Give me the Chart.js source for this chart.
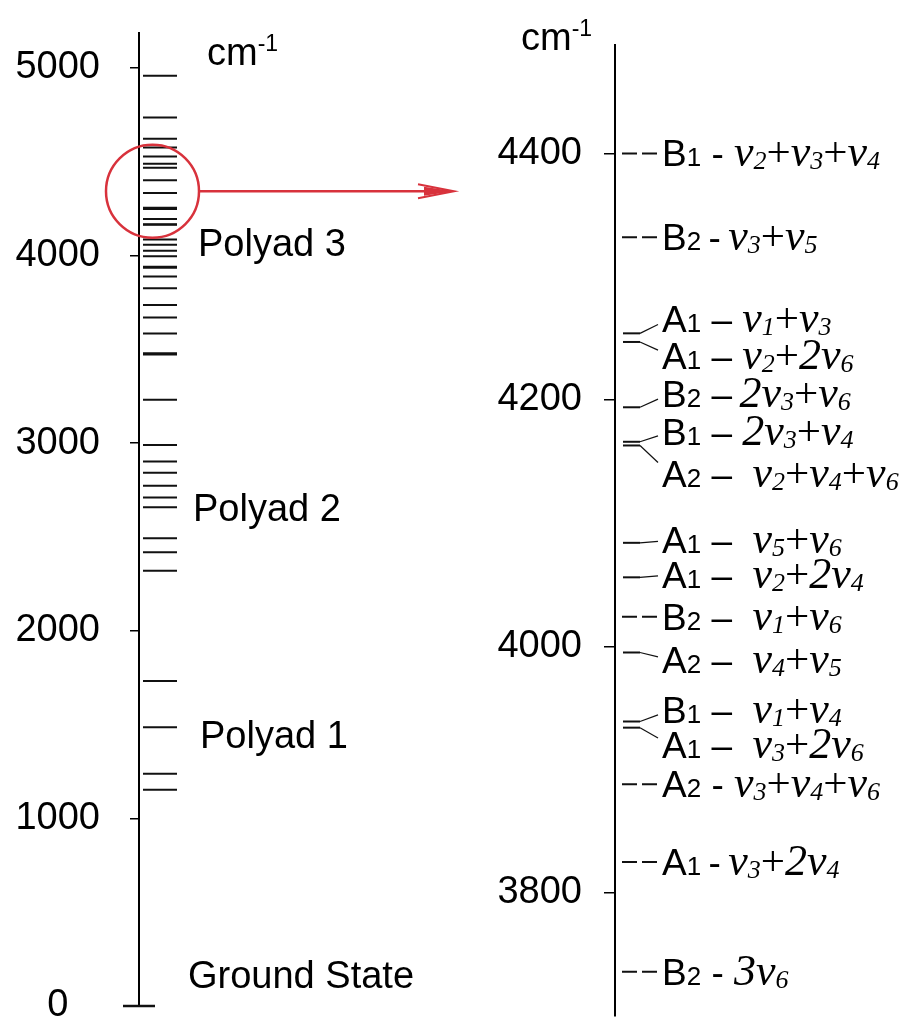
<!DOCTYPE html>
<html>
<head>
<meta charset="utf-8">
<script src="https://cdn.jsdelivr.net/npm/chart.js@4.4.0/dist/chart.umd.min.js"></script>
<style>
  html, body { margin: 0; padding: 0; background: #fff; overflow: hidden; }
  #wrap  { position: relative; width: 901px; height: 1017px; overflow: hidden; }
  #left  { position: absolute; left: 0;     top: 0; width: 460px; height: 1060px; }
  #right { position: absolute; left: 460px; top: 0; width: 441px; height: 1060px; }
</style>
</head>
<body>
<div id="wrap">
  <div id="left"><canvas id="chart-overview"></canvas></div>
  <div id="right"><canvas id="chart-detail"></canvas></div>
</div>
<script>
/* Vibrational energy levels: full ladder (left) and zoom on polyad 3 (right) */

const leftTicks  = [0, 1000, 2000, 3000, 4000, 5000];
const rightTicks = [3800, 4000, 4200, 4400];

// levels (cm-1)
const groundLevel       = [0];
const polyad1Levels     = [1153, 1238, 1486, 1732];
const polyad2Levels     = [2319, 2418, 2493, 2658, 2710, 2773, 2841, 2902, 2990];
const polyad3LowLevels  = [3230, 3472, 3478, 3584, 3669];
const polyad3HighLevels = [4467, 4488, 4527, 4575, 4622, 4735, 4957];

// zoomed window, right ladder
const detailLevels = [4400, 4332, 4254, 4247, 4194, 4166, 4163, 4084, 4056, 4024, 3995, 3939, 3934, 3888, 3825, 3736];
const detailSym    = ['B1', 'B2', 'A1', 'A1', 'B2', 'B1', 'A2', 'A1', 'A1', 'B2', 'A2', 'B1', 'A1', 'A2', 'A1', 'B2'];
const detailModes  = ['ν_2+ν_3+ν_4', 'ν_3+ν_5', 'ν_1+ν_3', 'ν_2+2ν_6', '2ν_3+ν_6', '2ν_3+ν_4', 'ν_2+ν_4+ν_6',
                      'ν_5+ν_6', 'ν_2+2ν_4', 'ν_1+ν_6', 'ν_4+ν_5', 'ν_1+ν_4', 'ν_3+2ν_6', 'ν_3+ν_4+ν_6', 'ν_3+2ν_4', '3ν_6'];

const groupLabels = ['Polyad 3', 'Polyad 2', 'Polyad 1', 'Ground State'];
const groupAt     = [4066, 2654, 1444, 165];
const zoomCentre  = 4342;

// ---- layout / style ----
const SANS  = '"Liberation Sans", Arial, sans-serif';
const SERIF = '"Liberation Serif", "Times New Roman", serif';
const INK   = '#111';
const RED   = '#d8323c';
const THIN  = '\u2009';

const SEP = [' - ', THIN + '-' + THIN, ' – ', ' – ', ' –' + THIN, ' – ', ' –  ', ' –  ', ' –  ', ' –  ',
             ' –  ', ' –  ', ' –  ', ' - ', THIN + '-' + THIN, ' - '];
const LABEL_SHIFT = [0, 0, 12, -11, 11, 8, -23, 2, 2, 0, -6, 9, -14, 0, 0, 0];   // cm-1, pulls crowded labels apart
const GROUP_X     = [59, 54, 61, 49];

function seg(x0, x1, y0, y1, extra) {
  return Object.assign({
    data: [{ x: x0, y: y0 }, { x: x1, y: y1 }],
    borderColor: INK, borderWidth: 2, pointRadius: 0, clip: false, tension: 0
  }, extra || {});
}

// tiny lineHeight: chart.js adds label height + padding to the top inset of a vertical axis
function yAxis(min, max, ticks, width, tickLen, pad, align, lh) {
  return {
    type: 'linear', position: 'left', min, max,
    afterBuildTicks: s => { s.ticks = ticks.map(v => ({ value: v })); },
    afterFit: s => { s.width = width; },
    border: { display: true, color: '#000', width: 2 },
    grid:   { display: true, drawOnChartArea: false, drawTicks: true, tickLength: tickLen, color: '#000', lineWidth: 1.5 },
    ticks:  {
      color: '#000', font: { family: SANS, size: 38, lineHeight: lh }, padding: pad, crossAlign: align,
      callback: v => String(v)
    }
  };
}

function runsFor(sym, sep, modes) {
  const r = [
    { t: sym[0], f: '37px ' + SANS },
    { t: sym.slice(1), f: '26px ' + SANS },
    { t: sep, f: '37px ' + SANS }
  ];
  for (let i = 0; i < modes.length; i++) {
    const ch = modes[i];
    if (ch === '_')      r.push({ t: modes[++i], f: 'italic 26px ' + SERIF, dy: 3 });
    else if (ch === '+') r.push({ t: '+', f: '43px ' + SERIF });
    else                 r.push({ t: ch, f: 'italic 44px ' + SERIF });
  }
  return r;
}

function drawRuns(ctx, x, y, runs) {
  ctx.textAlign = 'left';
  ctx.textBaseline = 'alphabetic';
  ctx.fillStyle = '#000';
  runs.forEach(r => {
    ctx.font = r.f;
    ctx.fillText(r.t, x, y + (r.dy || 0));
    x += ctx.measureText(r.t).width;
  });
}

function drawUnit(ctx, x, y) {
  drawRuns(ctx, x, y, [{ t: 'cm', f: '38px ' + SANS }, { t: '-1', f: '23px ' + SANS, dy: -14 }]);
}

// ---- left: whole ladder ----
const ladder = [].concat(polyad1Levels, polyad2Levels, polyad3LowLevels, detailLevels, polyad3HighLevels);
const leftSets = ladder.map(v => seg(4, 38, v, v));
groundLevel.forEach(v => leftSets.push(seg(-16, 16, v, v, { borderWidth: 2.5 })));

const overviewDecor = {
  id: 'overviewDecor',
  afterDraw(chart) {
    const { ctx, scales: { x, y } } = chart;
    ctx.save();
    drawUnit(ctx, 207, 65);
    ctx.font = '38px ' + SANS;
    ctx.fillStyle = '#000';
    groupLabels.forEach((t, i) => ctx.fillText(t, x.getPixelForValue(GROUP_X[i]), y.getPixelForValue(groupAt[i]) + 13));

    // zoom marker + arrow
    const cx = x.getPixelForValue(13.5), cy = y.getPixelForValue(zoomCentre), r = 46.5;
    const tip = x.getPixelForValue(315);
    ctx.strokeStyle = RED; ctx.fillStyle = RED; ctx.lineWidth = 2.5;
    ctx.beginPath(); ctx.arc(cx, cy, r, 0, Math.PI * 2); ctx.stroke();
    ctx.beginPath(); ctx.moveTo(cx + r, cy); ctx.lineTo(tip - 6, cy); ctx.stroke();
    ctx.beginPath(); ctx.moveTo(tip, cy); ctx.lineTo(tip - 30, cy - 4.5); ctx.lineTo(tip - 30, cy + 4.5); ctx.closePath(); ctx.fill();
    ctx.lineWidth = 2;
    ctx.beginPath(); ctx.moveTo(tip - 36, cy - 7); ctx.lineTo(tip, cy); ctx.lineTo(tip - 36, cy + 7); ctx.stroke();
    ctx.restore();
  }
};

new Chart(document.getElementById('chart-overview'), {
  type: 'line',
  data: { datasets: leftSets },
  options: {
    responsive: true, maintainAspectRatio: false, animation: false, events: [],
    layout: { padding: { top: 33, bottom: 54, left: 0, right: 0 } },
    plugins: { legend: { display: false }, tooltip: { enabled: false } },
    scales: {
      x: { type: 'linear', display: false, min: 0, max: 321 },
      y: yAxis(0, 5185, leftTicks, 139, 9, 30, 'center', 0.05)
    }
  },
  plugins: [overviewDecor]
});

// ---- right: polyad 3 detail ----
const rightSets = [];
detailLevels.forEach((v, i) => {
  const s = LABEL_SHIFT[i];
  if (s === 0) {
    rightSets.push(seg(7, 42, v, v, { borderDash: [15, 5] }));
  } else {
    rightSets.push(seg(8, 25, v, v));
    rightSets.push(seg(25, 43, v, v + s * 0.6, { borderWidth: 1.2 }));
  }
});

const detailDecor = {
  id: 'detailDecor',
  afterDraw(chart) {
    const { ctx, scales: { x, y } } = chart;
    ctx.save();
    drawUnit(ctx, 61, 50);
    detailLevels.forEach((v, i) => {
      const py = y.getPixelForValue(v + LABEL_SHIFT[i]);
      drawRuns(ctx, x.getPixelForValue(47), py + 13, runsFor(detailSym[i], SEP[i], detailModes[i]));
    });
    ctx.restore();
  }
};

new Chart(document.getElementById('chart-detail'), {
  type: 'line',
  data: { datasets: rightSets },
  options: {
    responsive: true, maintainAspectRatio: false, animation: false, events: [],
    layout: { padding: { top: 45, bottom: 44, left: 0, right: 0 } },
    plugins: { legend: { display: false }, tooltip: { enabled: false } },
    scales: {
      x: { type: 'linear', display: false, min: 0, max: 286 },
      y: yAxis(3700, 4488, rightTicks, 155, 11, 22, 'near', 1)
    }
  },
  plugins: [detailDecor]
});
</script>
</body>
</html>
